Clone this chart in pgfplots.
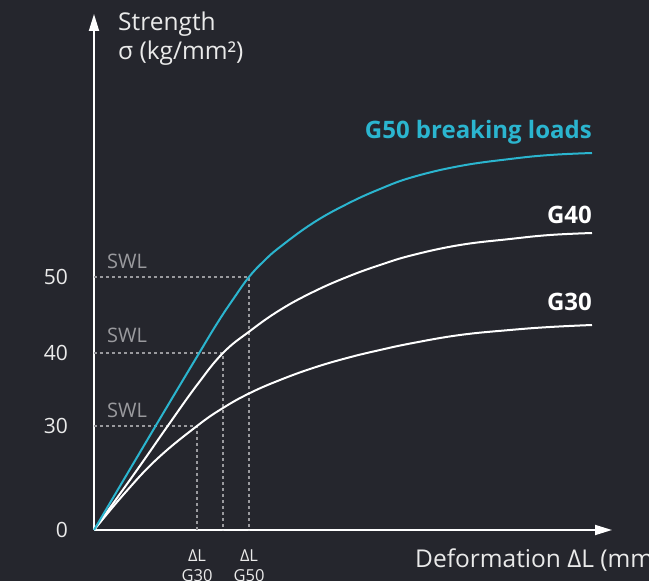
\documentclass[border=0pt]{standalone}
\usepackage{fontspec}
\setmainfont{Open Sans}
\usepackage{pgfplots}
\pgfplotsset{compat=1.18}
\usetikzlibrary{arrows.meta}
\definecolor{bg}{HTML}{25262D}
\definecolor{cy}{HTML}{2BB5CF}
\definecolor{gr}{HTML}{9A9A9E}
\definecolor{tx}{HTML}{EAEAEA}
\begin{document}
\begin{tikzpicture}[x=1pt,y=1pt]
\fill[bg] (0,0) rectangle (649,581);
\clip (0,0) rectangle (649,581);
\begin{axis}[
  at={(94pt,51pt)}, anchor=origin,
  x=1pt, y=1pt,
  xmin=0, xmax=518, ymin=0, ymax=516,
  axis lines=left,
  axis line style={white, line width=1.8pt, -{Triangle[length=17pt,width=10pt]}},
  xtick=\empty,
  ytick={0,104,177,253},
  yticklabels={0,30,40,50},
  major tick length=0pt,
  /pgf/number format/assume math mode=true,
  yticklabel style={anchor=east, inner sep=0pt, xshift=-26pt, font=\fontsize{21}{25}\selectfont, text=tx},
  clip=false,
]
% SWL reference lines
\addplot[gr, line width=1.2pt, dash pattern=on 3pt off 3pt] coordinates {(0,104) (103,104) (103,0)};
\addplot[gr, line width=1.2pt, dash pattern=on 3pt off 3pt] coordinates {(0,177) (129,177) (129,0)};
\addplot[gr, line width=1.2pt, dash pattern=on 3pt off 3pt] coordinates {(0,253) (155,253) (155,0)};
% G30
\addplot[white, line width=2pt, smooth, tension=0.7] coordinates {
(0,0) (30,36) (63,71) (103,104) (129,122) (156,137) (186,150) (219,162) (253,172) (286,180) (319,187) (366,195) (416,200) (456,203) (498,205)};
% G40
\addplot[white, line width=2pt, smooth, tension=0.7] coordinates {
(0,0) (43,60) (73,103) (103,145) (129,177) (156,199) (186,220) (219,238) (253,253) (286,265) (319,275) (366,285) (416,291) (456,295) (498,297)};
% G50
\addplot[cy, line width=2pt, smooth, tension=0.7] coordinates {
(0,0) (61,103) (104,175) (124,208) (140,232) (155,253) (170,269) (186,283) (219,307) (253,326) (286,341) (319,353) (366,364) (416,371) (456,375) (498,377)};
% labels
\node[anchor=base east, inner sep=0pt, text=cy, font=\fontsize{24}{28}\selectfont\bfseries] at (axis cs:498,391) {G50 breaking loads};
\node[anchor=base east, inner sep=0pt, text=white, font=\fontsize{24}{28}\selectfont\bfseries] at (axis cs:498,306) {G40};
\node[anchor=base east, inner sep=0pt, text=white, font=\fontsize{24}{28}\selectfont\bfseries] at (axis cs:498,219) {G30};
\node[anchor=west, inner sep=0pt, text=gr, font=\fontsize{20}{23}\selectfont] at (axis cs:13,269) {SWL};
\node[anchor=west, inner sep=0pt, text=gr, font=\fontsize{20}{23}\selectfont] at (axis cs:13,195) {SWL};
\node[anchor=west, inner sep=0pt, text=gr, font=\fontsize{20}{23}\selectfont] at (axis cs:13,120) {SWL};
\node[text=tx, inner sep=0pt, font=\fontsize{16.5}{19}\selectfont] at (axis cs:103,-26) {ΔL};
\node[text=tx, inner sep=0pt, font=\fontsize{16.5}{19}\selectfont] at (axis cs:103,-46) {G30};
\node[text=tx, inner sep=0pt, font=\fontsize{16.5}{19}\selectfont] at (axis cs:155,-26) {ΔL};
\node[text=tx, inner sep=0pt, font=\fontsize{16.5}{19}\selectfont] at (axis cs:155,-46) {G50};
\node[anchor=base west, inner sep=0pt, text=tx, font=\fontsize{24.5}{29}\selectfont] at (axis cs:24,499) {Strength};
\node[anchor=base west, inner sep=0pt, text=tx, font=\fontsize{24.5}{29}\selectfont] at (axis cs:24,470) {σ (kg/mm²)};
\node[anchor=base west, inner sep=0pt, text=tx, font=\fontsize{24.5}{29}\selectfont] at (axis cs:321,-38) {Deformation ΔL (mm)};
\end{axis}
\end{tikzpicture}
\end{document}
